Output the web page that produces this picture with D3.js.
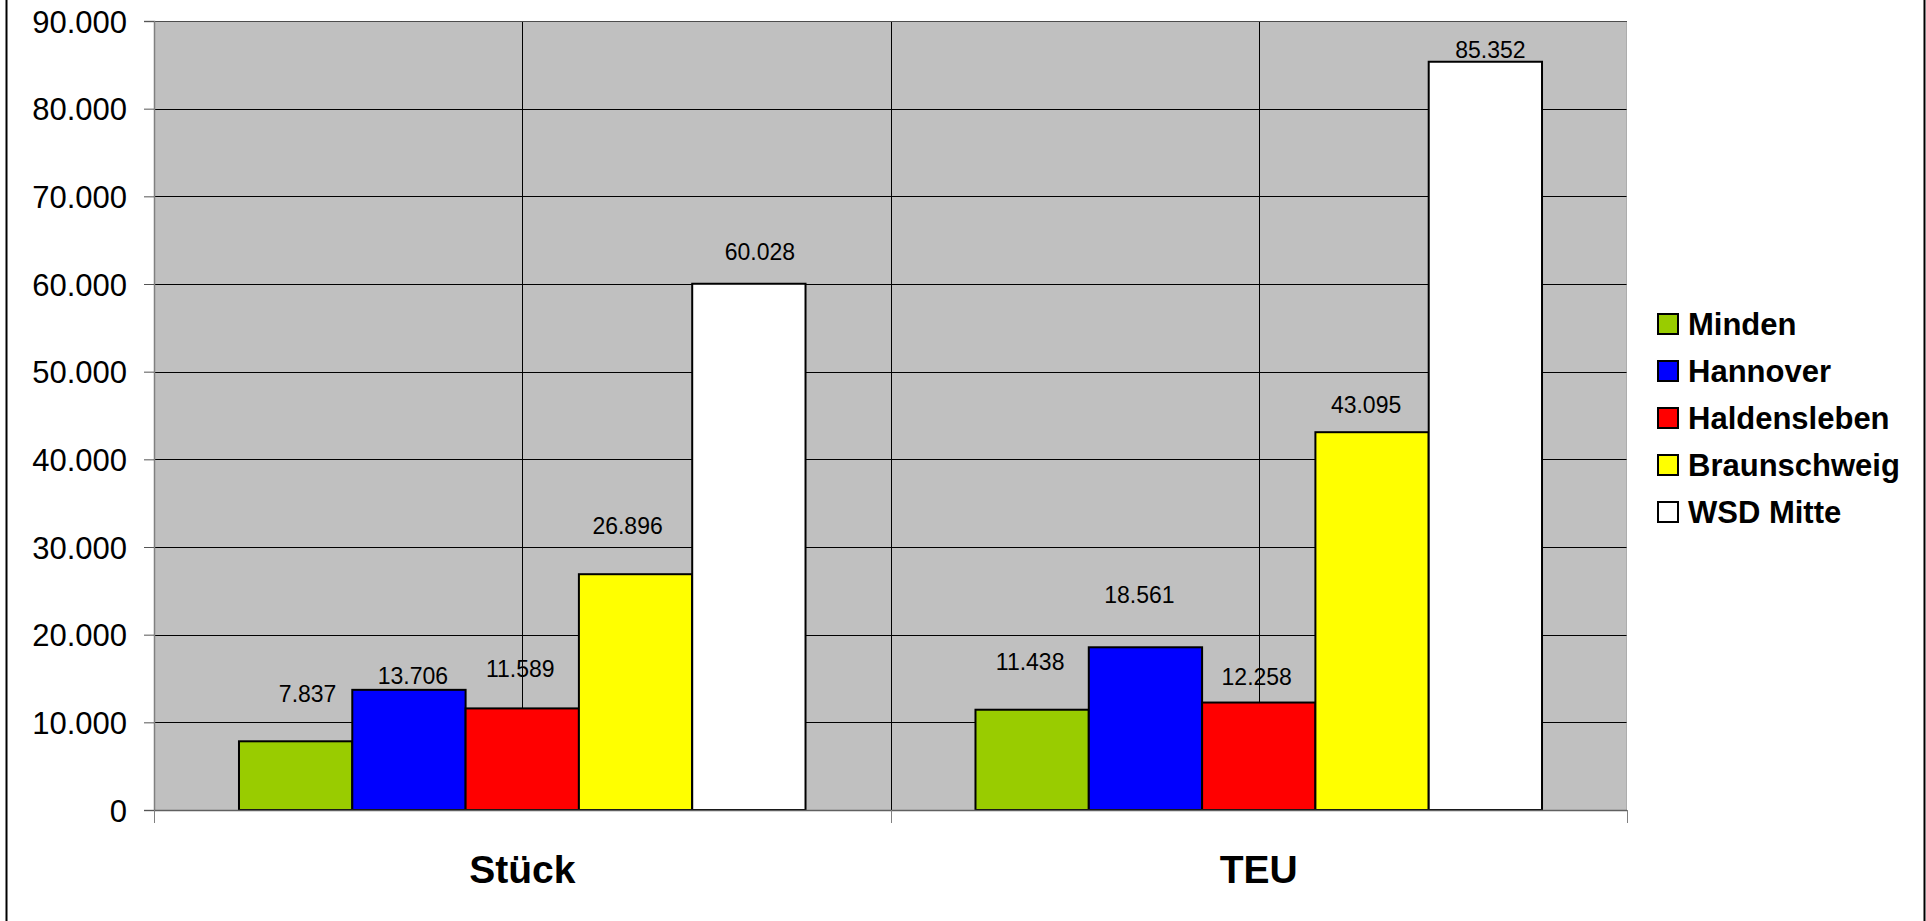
<!DOCTYPE html>
<html>
<head>
<meta charset="utf-8">
<script src="https://cdn.jsdelivr.net/npm/d3@7"></script>
<style>
  body { margin: 0; background: #fff; }
  svg { display: block; font-family: "Liberation Sans", Arial, sans-serif; }
</style>
</head>
<body>
<div id="chart"></div>
<script>
var categories = ["Stück", "TEU"];
var seriesNames = ["Minden", "Hannover", "Haldensleben", "Braunschweig", "WSD Mitte"];
var seriesColors = ["#99CC00", "#0000FF", "#FF0000", "#FFFF00", "#FFFFFF"];
var valuesStueck = [7837, 13706, 11589, 26896, 60028];
var valuesTEU = [11438, 18561, 12258, 43095, 85352];
var yTicks = [0, 10000, 20000, 30000, 40000, 50000, 60000, 70000, 80000, 90000];

// hand-placed label offsets (dx, dy from bar top), as in the original sheet
var labelShift = [
  [[12, -39], [4, -6], [-2, -31], [-8, -40], [11, -24]],
  [[-2, -40], [-6, -44], [-2, -18], [-6, -19], [5, -4]]
];

var W = 1926, H = 921;
var margin = {top: 21, left: 154, right: 299, bottom: 111};
var plotW = W - margin.left - margin.right,
    plotH = H - margin.top - margin.bottom;

var data = categories.map(function(c, i) {
  var vals = i === 0 ? valuesStueck : valuesTEU;
  return {cat: c, vals: seriesNames.map(function(s, j) {
    return {name: s, value: vals[j], ci: i, si: j};
  })};
});

var fmt = function(v) { return d3.format(",")(v).replace(/,/g, "."); };

var svg = d3.select("#chart").append("svg")
    .attr("width", W)
    .attr("height", H);

// outer frame
svg.append("line").attr("x1", 6.5).attr("x2", 6.5).attr("y1", 0).attr("y2", H)
    .attr("stroke", "#000").attr("stroke-width", 2);
svg.append("line").attr("x1", 1924.5).attr("x2", 1924.5).attr("y1", 0).attr("y2", H)
    .attr("stroke", "#000").attr("stroke-width", 2);

var g = svg.append("g")
    .attr("transform", "translate(" + margin.left + "," + margin.top + ")");

var x0 = d3.scaleBand().domain(categories).range([0, plotW]).padding(0);
var x1 = d3.scaleBand().domain(seriesNames).range([0, x0.bandwidth()])
    .paddingInner(0).paddingOuter(0.75);
var y = d3.scaleLinear().domain([0, 90000]).range([plotH, 0]);

g.append("rect")
    .attr("width", plotW).attr("height", plotH)
    .attr("fill", "#C0C0C0");

// horizontal grid
g.selectAll(".hgrid")
  .data(yTicks.slice(1))
  .enter().append("line")
    .attr("class", "hgrid")
    .attr("x1", 0).attr("x2", plotW)
    .attr("y1", function(d) { return Math.round(y(d)) + 0.5; })
    .attr("y2", function(d) { return Math.round(y(d)) + 0.5; })
    .attr("stroke", "#000").attr("stroke-width", 1);

// vertical grid at category centres and between them
var vgrid = [x0.bandwidth() / 2, x0.bandwidth(), x0.bandwidth() * 1.5];
g.selectAll(".vgrid")
  .data(vgrid)
  .enter().append("line")
    .attr("class", "vgrid")
    .attr("x1", function(d) { return Math.round(d) + 0.5; })
    .attr("x2", function(d) { return Math.round(d) + 0.5; })
    .attr("y1", 0).attr("y2", plotH)
    .attr("stroke", "#000").attr("stroke-width", 1);

// plot border (dotted top/right)
g.append("rect")
    .attr("x", 0.5).attr("y", 0.5)
    .attr("width", plotW - 1).attr("height", plotH)
    .attr("fill", "none")
    .attr("stroke", "#9a9a9a").attr("stroke-dasharray", "1,1");

var groups = g.selectAll(".grp")
  .data(data)
  .enter().append("g")
    .attr("class", "grp")
    .attr("transform", function(d) { return "translate(" + x0(d.cat) + ",0)"; });

groups.selectAll("rect")
  .data(function(d) { return d.vals; })
  .enter().append("rect")
    .attr("x", function(d) { return x1(d.name); })
    .attr("y", function(d) { return y(d.value); })
    .attr("width", x1.bandwidth())
    .attr("height", function(d) { return plotH - y(d.value); })
    .attr("fill", function(d, i) { return seriesColors[i]; })
    .attr("stroke", "#000").attr("stroke-width", 2);

groups.selectAll(".lbl")
  .data(function(d) { return d.vals; })
  .enter().append("text")
    .attr("class", "lbl")
    .attr("x", function(d) { return x1(d.name) + x1.bandwidth() / 2 + labelShift[d.ci][d.si][0]; })
    .attr("y", function(d) { return y(d.value) + labelShift[d.ci][d.si][1]; })
    .attr("text-anchor", "middle")
    .style("font-size", "23px")
    .attr("fill", "#000")
    .text(function(d) { return fmt(d.value); });

// y axis
var yAxis = d3.axisLeft(y).tickValues(yTicks).tickSize(10).tickPadding(17)
    .tickFormat(fmt);
var ya = g.append("g").call(yAxis);
ya.select(".domain").attr("stroke", "#808080").attr("stroke-width", 1.5);
ya.selectAll(".tick line").attr("stroke", "#555");
ya.selectAll(".tick text").style("font-size", "31px").attr("fill", "#000")
    .attr("dy", "0.36em");

// x axis: ticks between categories
var xa = g.append("g").attr("transform", "translate(0," + plotH + ")");
xa.append("line").attr("x1", 0).attr("x2", plotW).attr("y1", 0.5).attr("y2", 0.5)
    .attr("stroke", "#606060").attr("stroke-width", 1.5);
xa.selectAll(".xtick")
  .data([0, x0.bandwidth(), plotW])
  .enter().append("line")
    .attr("class", "xtick")
    .attr("x1", function(d) { return Math.round(d) + 0.5; })
    .attr("x2", function(d) { return Math.round(d) + 0.5; })
    .attr("y1", 0).attr("y2", 13)
    .attr("stroke", "#808080");
xa.selectAll(".xlbl")
  .data(categories)
  .enter().append("text")
    .attr("class", "xlbl")
    .attr("x", function(d) { return x0(d) + x0.bandwidth() / 2; })
    .attr("y", 73)
    .attr("text-anchor", "middle")
    .style("font-size", "39px").style("font-weight", "bold")
    .text(function(d) { return d; });

// legend
var legend = svg.append("g").attr("transform", "translate(1658,324)");
var items = legend.selectAll(".item")
  .data(seriesNames)
  .enter().append("g")
    .attr("class", "item")
    .attr("transform", function(d, i) { return "translate(0," + (i * 47) + ")"; });
items.append("rect")
    .attr("x", 0).attr("y", -10).attr("width", 20).attr("height", 20)
    .attr("fill", function(d, i) { return seriesColors[i]; })
    .attr("stroke", "#000").attr("stroke-width", 2);
items.append("text")
    .attr("x", 30).attr("y", 0).attr("dy", "0.36em")
    .style("font-size", "31px").style("font-weight", "bold")
    .text(function(d) { return d; });
</script>
</body>
</html>
